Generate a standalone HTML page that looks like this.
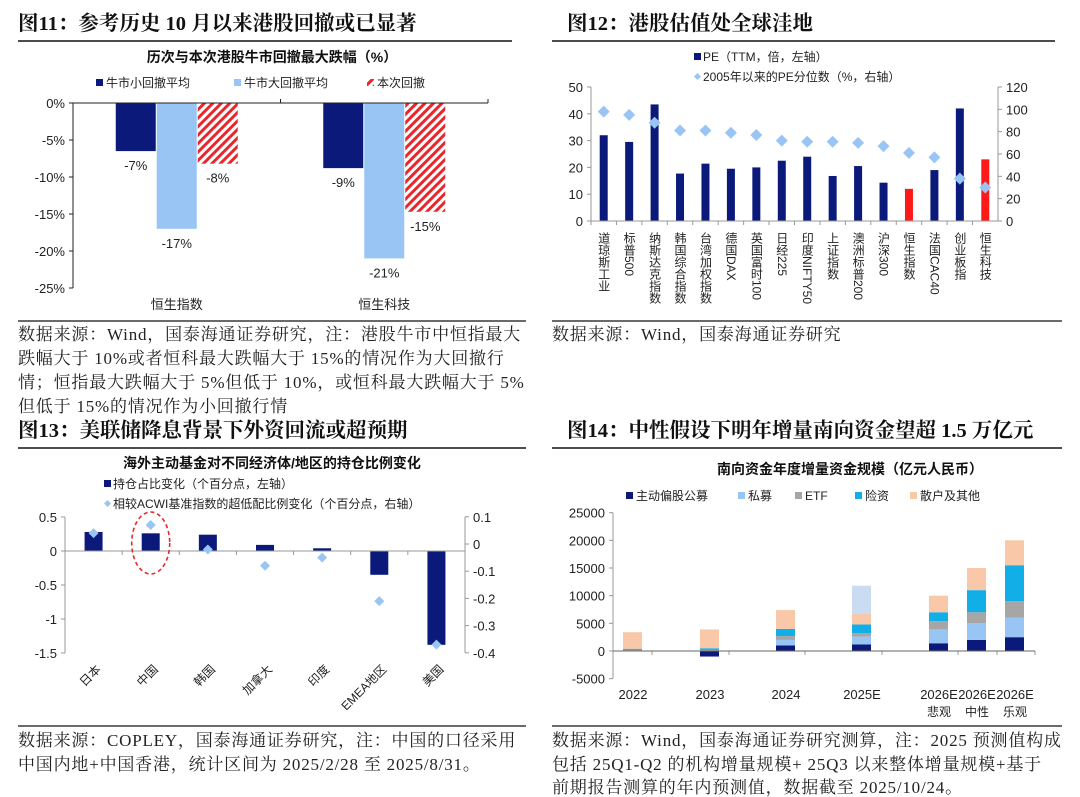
<!DOCTYPE html>
<html><head><meta charset="utf-8">
<style>
html,body{margin:0;padding:0;background:#fff;}
svg{display:block;}
.hd{font-family:"Liberation Serif","Noto Serif CJK SC",serif;font-weight:bold;font-size:20.5px;fill:#111;}
.ft{font-family:"Liberation Serif","Noto Serif CJK SC",serif;font-size:17px;letter-spacing:0.8px;fill:#222;}
.ct{font-family:"Liberation Sans","Noto Sans CJK SC",sans-serif;font-weight:bold;font-size:14px;fill:#111;}
.lg{font-family:"Liberation Sans","Noto Sans CJK SC",sans-serif;font-size:12px;fill:#222;}
.tk{font-family:"Liberation Sans","Noto Sans CJK SC",sans-serif;font-size:13px;fill:#222;}
</style></head>
<body>
<svg id="s" width="1080" height="797" viewBox="0 0 1080 797" xmlns="http://www.w3.org/2000/svg">
<defs>
<pattern id="hatch" patternUnits="userSpaceOnUse" width="6" height="6" patternTransform="rotate(45)">
<rect width="6" height="6" fill="#fff"/><rect width="3" height="6" fill="#e8262b"/>
</pattern>
</defs>
<text class="hd" x="18" y="30">图11：参考历史 10 月以来港股回撤或已显著</text>
<line x1="18" y1="41" x2="512" y2="41" stroke="#111" stroke-width="1.5"/>
<text class="hd" x="567" y="30">图12：港股估值处全球洼地</text>
<line x1="552" y1="41" x2="1055" y2="41" stroke="#111" stroke-width="1.5"/>
<line x1="18" y1="321" x2="526" y2="321" stroke="#111" stroke-width="1.2"/>
<line x1="552" y1="321" x2="1062" y2="321" stroke="#111" stroke-width="1.2"/>
<text class="ft" x="18" y="340">数据来源：Wind，国泰海通证券研究，注：港股牛市中恒指最大</text>
<text class="ft" x="18" y="364">跌幅大于 10%或者恒科最大跌幅大于 15%的情况作为大回撤行</text>
<text class="ft" x="18" y="388">情；恒指最大跌幅大于 5%但低于 10%，或恒科最大跌幅大于 5%</text>
<text class="ft" x="18" y="412">但低于 15%的情况作为小回撤行情</text>
<text class="ft" x="552" y="340">数据来源：Wind，国泰海通证券研究</text>
<text class="hd" x="18" y="437">图13：美联储降息背景下外资回流或超预期</text>
<line x1="18" y1="448" x2="526" y2="448" stroke="#111" stroke-width="1.5"/>
<text class="hd" x="567" y="437">图14：中性假设下明年增量南向资金望超 1.5 万亿元</text>
<line x1="552" y1="448" x2="1062" y2="448" stroke="#111" stroke-width="1.5"/>
<line x1="18" y1="726" x2="526" y2="726" stroke="#111" stroke-width="1.2"/>
<line x1="552" y1="726" x2="1062" y2="726" stroke="#111" stroke-width="1.2"/>
<text class="ft" x="18" y="746">数据来源：COPLEY，国泰海通证券研究，注：中国的口径采用</text>
<text class="ft" x="18" y="770">中国内地+中国香港，统计区间为 2025/2/28 至 2025/8/31。</text>
<text class="ft" x="552" y="746">数据来源：Wind，国泰海通证券研究测算，注：2025 预测值构成</text>
<text class="ft" x="552" y="770">包括 25Q1-Q2 的机构增量规模+ 25Q3 以来整体增量规模+基于</text>
<text class="ft" x="552" y="793">前期报告测算的年内预测值，数据截至 2025/10/24。</text>
<g id="c1"></g><g id="c2"></g><g id="c3"></g><g id="c4"></g>
</svg>
<script>
// ---- Chart 1 data ----
var c1Categories = ['恒生指数','恒生科技'];
var c1Small = [-6.5, -8.8];
var c1Large = [-17, -21];
var c1Current = [-8.2, -14.7];
var c1Labels = [['-7%','-17%','-8%'],['-9%','-21%','-15%']];
var c1Ticks = [0,-5,-10,-15,-20,-25];
// ---- Chart 2 data ----
var c2Categories = ['道琼斯工业','标普500','纳斯达克指数','韩国综合指数','台湾加权指数','德国DAX','英国富时100','日经225','印度NIFTY50','上证指数','澳洲标普200','沪深300','恒生指数','法国CAC40','创业板指','恒生科技'];
var c2PE = [32,29.5,43.5,17.7,21.4,19.5,20,22.5,24,16.8,20.5,14.3,12,19,42,23];
var c2Pct = [98,95,88,81,81,79,77,72,71,71,70,67,61,57,38,30];
var c2Highlight = [0,0,0,0,0,0,0,0,0,0,0,0,1,0,0,1];
var c2LeftTicks = [0,10,20,30,40,50];
var c2RightTicks = [0,20,40,60,80,100,120];
// ---- Chart 3 data ----
var c3Categories = ['日本','中国','韩国','加拿大','印度','EMEA地区','美国'];
var c3Holding = [0.28,0.26,0.24,0.09,0.04,-0.35,-1.38];
var c3Relative = [0.04,0.07,-0.02,-0.08,-0.05,-0.21,-0.37];
var c3LeftTicks = [0.5,0,-0.5,-1,-1.5];
var c3LeftTickLabels = ['0.5','0','-0.5','-1','-1.5'];
var c3RightTicks = [0.1,0,-0.1,-0.2,-0.3,-0.4];
// ---- Chart 4 data ----
var c4Categories = ['2022','2023','2024','2025E','2026E','2026E','2026E'];
var c4Sub = ['','','','','悲观','中性','乐观'];
var c4Active = [0,-1000,1000,1200,1400,2000,2500];
var c4Private = [100,100,1000,1400,2500,3000,3500];
var c4ETF = [100,100,700,600,1500,2000,3000];
var c4Insurance = [200,300,1300,1600,1600,4000,6500];
var c4Retail = [3000,3400,3400,2000,3000,4000,4500];
var c4Unassigned = [0,0,0,5000,0,0,0];
var c4Ticks = [25000,20000,15000,10000,5000,0,-5000];

var NS='http://www.w3.org/2000/svg';
function mk(parent, tag, attrs, txt){var e=document.createElementNS(NS,tag);for(var k in attrs)e.setAttribute(k,attrs[k]);if(txt!==undefined)e.textContent=txt;parent.appendChild(e);return e;}

// ================= Chart 1 =================
(function(){
var g=document.getElementById('c1');
var y=function(v){return 103+(0-v)*(185/25);};
var x0=73,x1=488;
var e=mk(g,'text',{x:272,y:62,'text-anchor':'middle','class':'ct'},'历次与本次港股牛市回撤最大跌幅（%）');


var lgItems=[['#0b1a7a','牛市小回撤平均',96],['#99c5f5','牛市大回撤平均',234],['url(#hatch)','本次回撤',367]];
lgItems.forEach(function(L){
 var r=mk(g,'rect',{x:L[2],y:79,width:7,height:7,fill:L[0]});
 
 
 var t=mk(g,'text',{x:L[2]+10,y:87,'class':'lg'},L[1]);
 
 
});
c1Ticks.forEach(function(v){
 var l=mk(g,'line',{x1:x0-4,x2:x0,y1:y(v),y2:y(v),stroke:'#222'});
 
 
 var t=mk(g,'text',{x:x0-8,y:y(v)+5,'text-anchor':'end','class':'tk'},v+'%');
 
 
});
var cw=(x1-x0)/c1Categories.length;
c1Categories.forEach(function(c,i){
 var cx=x0+cw*(i+0.5);
 var sets=[[c1Small[i],'#0b1a7a'],[c1Large[i],'#99c5f5'],[c1Current[i],'url(#hatch)']];
 sets.forEach(function(s,j){
  var bx=cx-61+j*41;
  var r=mk(g,'rect',{x:bx,y:y(0),width:40,height:y(s[0])-y(0),fill:s[1]});
  
  
  var t=mk(g,'text',{x:bx+20,y:y(s[0])+19,'text-anchor':'middle','class':'tk'},c1Labels[i][j]);
  
  
 });
 var t=mk(g,'text',{x:cx,y:309,'text-anchor':'middle','class':'tk'},c);
 
 
 var tk=mk(g,'line',{x1:x0+cw*(i+1),x2:x0+cw*(i+1),y1:y(0)-4,y2:y(0),stroke:'#222'});
 
 
});
var ax=mk(g,'line',{x1:x0,x2:x0,y1:y(0),y2:y(-25),stroke:'#222'});


var xa=mk(g,'line',{x1:x0,x2:x1,y1:y(0),y2:y(0),stroke:'#222'});


})();

// ================= Chart 2 =================
(function(){
var g=document.getElementById('c2');
var yl=function(v){return 221-v*(134/50);};
var yr=function(v){return 221-v*(134/120);};
var x0=591,x1=998;
var r=mk(g,'rect',{x:694,y:53,width:7,height:7,fill:'#0b1a7a'});


var t=mk(g,'text',{x:703,y:61,'class':'lg','font-size':'13'},'PE（TTM，倍，左轴）');


var d=mk(g,'path',{d:'M697.5,73 l3.5,3.5 l-3.5,3.5 l-3.5,-3.5z',fill:'#99c5f5'});


t=mk(g,'text',{x:703,y:81,'class':'lg','font-size':'13'},'2005年以来的PE分位数（%，右轴）');


c2LeftTicks.forEach(function(v){
 var l=mk(g,'line',{x1:x0-4,x2:x0,y1:yl(v),y2:yl(v),stroke:'#999'});
 
 
 var tt=mk(g,'text',{x:x0-8,y:yl(v)+5,'text-anchor':'end','class':'tk'},String(v));
 
 
});
c2RightTicks.forEach(function(v){
 var l=mk(g,'line',{x1:x1,x2:x1+4,y1:yr(v),y2:yr(v),stroke:'#999'});
 
 
 var tt=mk(g,'text',{x:x1+8,y:yr(v)+5,'class':'tk'},String(v));
 
 
});
var n=c2Categories.length, cw=(x1-x0)/n;
c2Categories.forEach(function(c,i){
 var cx=x0+cw*(i+0.5);
 var b=mk(g,'rect',{x:cx-4,y:yl(c2PE[i]),width:8,height:yl(0)-yl(c2PE[i]),fill:c2Highlight[i]?'#ff1a1a':'#0b1a7a'});
 
 
 var tk=mk(g,'line',{x1:x0+cw*i,x2:x0+cw*i,y1:yl(0),y2:yl(0)+4,stroke:'#999'});
 
 
 var lab=mk(g,'text',{x:cx,y:232,'class':'lg','font-size':'13',style:'writing-mode:vertical-rl;text-orientation:mixed;letter-spacing:0px','text-anchor':'start'},c);
 
 
});
c2Categories.forEach(function(c,i){
 var cx=x0+cw*(i+0.5), cy=yr(c2Pct[i]);
 var p=mk(g,'path',{d:'M'+cx+','+(cy-6)+' l6,6 l-6,6 l-6,-6z',fill:'#99c5f5'});
 
 
});
var a=mk(g,'line',{x1:x0,x2:x0,y1:yl(0),y2:yl(50),stroke:'#999'});


a=mk(g,'line',{x1:x1,x2:x1,y1:yl(0),y2:yl(50),stroke:'#999'});


a=mk(g,'line',{x1:x0,x2:x1,y1:yl(0),y2:yl(0),stroke:'#999'});


})();

// ================= Chart 3 =================
(function(){
var g=document.getElementById('c3');
var yl=function(v){return 551-v*(136/2);};
var yr=function(v){return 544-v*272;};
var x0=65,x1=465;
var t=mk(g,'text',{x:272,y:468,'text-anchor':'middle','class':'ct'},'海外主动基金对不同经济体/地区的持仓比例变化');


var r=mk(g,'rect',{x:104,y:480,width:7,height:7,fill:'#0b1a7a'});


t=mk(g,'text',{x:113,y:488,'class':'lg'},'持仓占比变化（个百分点，左轴）');


var d=mk(g,'path',{d:'M107.5,500 l3.5,3.5 l-3.5,3.5 l-3.5,-3.5z',fill:'#99c5f5'});


t=mk(g,'text',{x:113,y:508,'class':'lg'},'相较ACWI基准指数的超低配比例变化（个百分点，右轴）');


c3LeftTicks.forEach(function(v,i){
 var l=mk(g,'line',{x1:x0-4,x2:x0,y1:yl(v),y2:yl(v),stroke:'#999'});
 
 
 var tt=mk(g,'text',{x:x0-8,y:yl(v)+5,'text-anchor':'end','class':'tk'},c3LeftTickLabels[i]);
 
 
});
c3RightTicks.forEach(function(v){
 var l=mk(g,'line',{x1:x1,x2:x1+4,y1:yr(v),y2:yr(v),stroke:'#999'});
 
 
 var tt=mk(g,'text',{x:x1+8,y:yr(v)+5,'class':'tk'},String(v));
 
 
});
var a=mk(g,'line',{x1:x0,x2:x0,y1:yl(0.5),y2:yl(-1.5),stroke:'#999'});


a=mk(g,'line',{x1:x1,x2:x1,y1:yr(0.1),y2:yr(-0.4),stroke:'#999'});


var n=c3Categories.length, cw=(x1-x0)/n;
c3Categories.forEach(function(c,i){
 var cx=x0+cw*(i+0.5), v=c3Holding[i];
 var b=mk(g,'rect',{x:cx-9,y:Math.min(yl(v),yl(0)),width:18,height:Math.abs(yl(v)-yl(0)),fill:'#0b1a7a'});
 
 
 var tk=mk(g,'line',{x1:x0+cw*(i+1),x2:x0+cw*(i+1),y1:yl(0),y2:yl(0)+4,stroke:'#999'});
 
 
 var lab=mk(g,'text',{x:cx+8,y:670,'text-anchor':'end','class':'lg','font-size':'12',transform:'rotate(-45 '+(cx+8)+' 670)'},c);
 
 
});
a=mk(g,'line',{x1:x0,x2:x1,y1:yl(0),y2:yl(0),stroke:'#999'});


c3Categories.forEach(function(c,i){
 var cx=x0+cw*(i+0.5), cy=yr(c3Relative[i]);
 var p=mk(g,'path',{d:'M'+cx+','+(cy-5)+' l5,5 l-5,5 l-5,-5z',fill:'#99c5f5'});
 
 
});
var ci=c3Categories.indexOf('中国');
var el=mk(g,'ellipse',{cx:x0+cw*(ci+0.5),cy:543,rx:19,ry:31,fill:'none',stroke:'#e8262b','stroke-width':1.6,'stroke-dasharray':'4,3'});


})();

// ================= Chart 4 =================
(function(){
var g=document.getElementById('c4');
var y=function(v){return 651-v*(166/30000);};
var x0=613,x1=1035;
var t=mk(g,'text',{x:850,y:474,'text-anchor':'middle','class':'ct'},'南向资金年度增量资金规模（亿元人民币）');


var cols=['#0b1a7a','#99c5f5','#a6a6a6','#12aee8','#f8c8a8'];
var names=['主动偏股公募','私募','ETF','险资','散户及其他'];
var lx=[626,738,795,855,910];
names.forEach(function(nm,i){
 var r=mk(g,'rect',{x:lx[i],y:492,width:7,height:7,fill:cols[i]});
 
 
 var tt=mk(g,'text',{x:lx[i]+10,y:500,'class':'lg','font-size':'13'},nm);
 
 
});
c4Ticks.forEach(function(v){
 var tt=mk(g,'text',{x:x0-8,y:y(v)+5,'text-anchor':'end','class':'tk'},String(v));
 
 
 var l=mk(g,'line',{x1:x0-4,x2:x0,y1:y(v),y2:y(v),stroke:'#999'});
 
 
});
var a=mk(g,'line',{x1:x0,x2:x0,y1:y(25000),y2:y(-5000),stroke:'#999'});


var centers=[633,710,786,862,939,977,1015];
var series=[c4Active,c4Private,c4ETF,c4Insurance,c4Retail];
c4Categories.forEach(function(c,i){
 var cx=centers[i], pos=0, neg=0;
 series.forEach(function(s,j){
  var v=s[i], a0,a1;
  if(v>=0){a0=pos;pos+=v;a1=pos;}else{a0=neg;neg+=v;a1=neg;}
  var b=mk(g,'rect',{x:cx-10,y:y(Math.max(a0,a1)),width:19,height:Math.abs(y(a1)-y(a0)),fill:cols[j]});
  
  
 });
 if(c4Unassigned[i]>0){
  var u=mk(g,'rect',{x:cx-10,y:y(pos+c4Unassigned[i]),width:19,height:y(pos)-y(pos+c4Unassigned[i]),fill:'#c9dcf2'});
  
  
 }
 var lab=mk(g,'text',{x:cx,y:699,'text-anchor':'middle','class':'tk'},c);
 
 
 if(c4Sub[i]){
  var sl=mk(g,'text',{x:cx,y:716,'text-anchor':'middle','class':'lg'},c4Sub[i]);
  
  
 }
});
var tks=[652,729,805,882,958,997,1035];
tks.forEach(function(tx){
 var l=mk(g,'line',{x1:tx,x2:tx,y1:y(0),y2:y(0)+4,stroke:'#999'});
 
 
});
a=mk(g,'line',{x1:x0,x2:x1,y1:y(0),y2:y(0),stroke:'#666'});


})();
</script>
</body></html>
